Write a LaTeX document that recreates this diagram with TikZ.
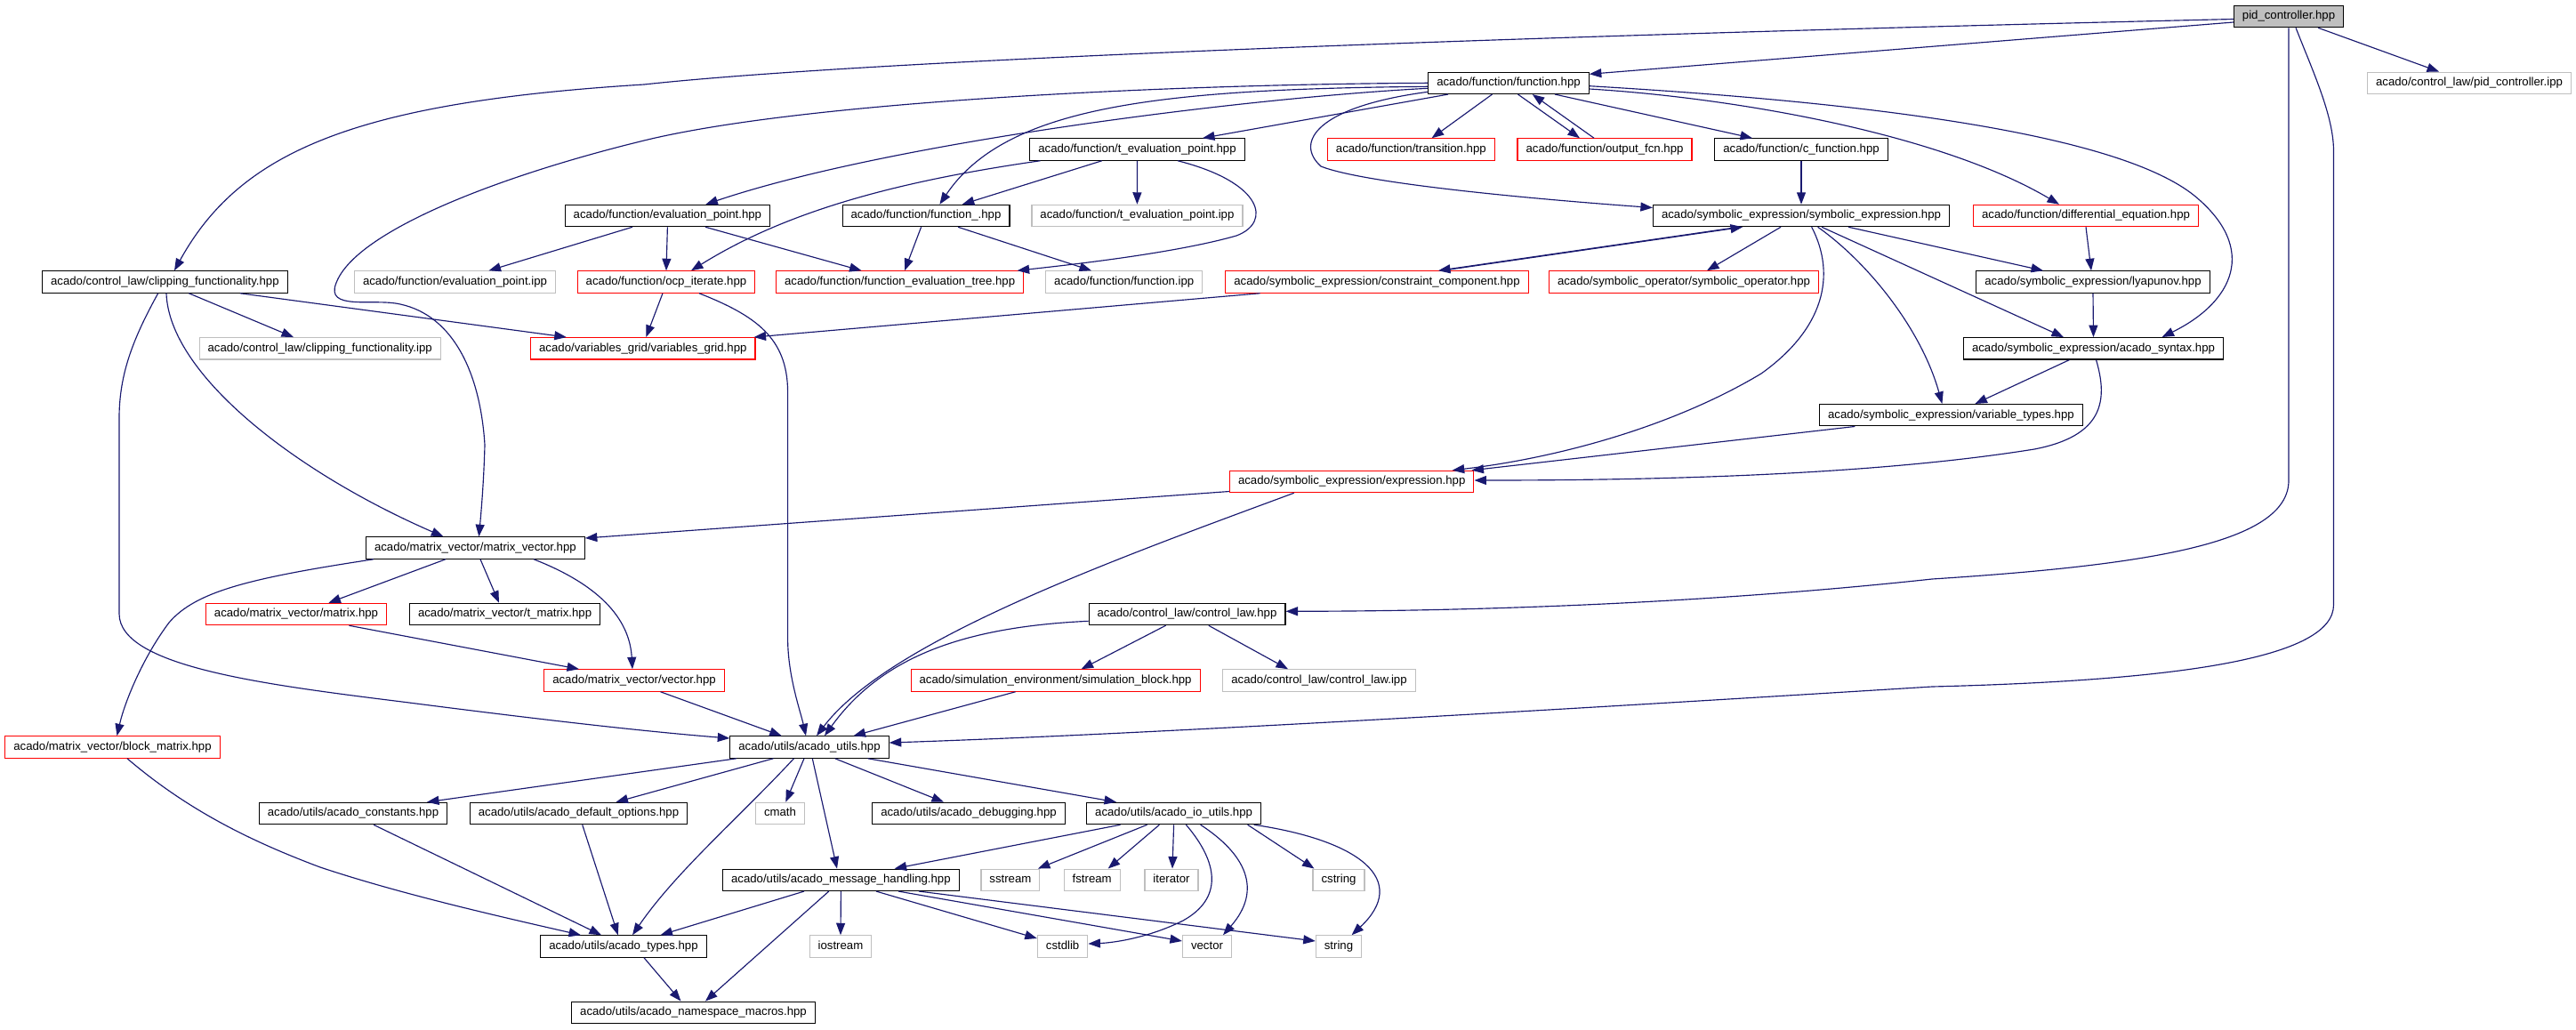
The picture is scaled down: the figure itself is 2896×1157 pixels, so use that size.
\documentclass[tikz,border=0pt]{standalone}
\usepackage{fontspec}
\setmainfont{Liberation Sans}
\usetikzlibrary{arrows.meta}
\definecolor{edgeblue}{HTML}{191970}
\definecolor{nodegrey}{HTML}{BFBFBF}
\newcommand\nodefont{\fontsize{13.2}{15}\selectfont}
\tikzset{
  nb/.style={draw=black, fill=white, line width=1.2pt, inner xsep=9.5pt, inner ysep=0pt,
    minimum height=24.3pt, text height=9.6pt, text depth=2.8pt, font=\nodefont},
  nr/.style={nb, draw=red},
  ng/.style={nb, draw=nodegrey},
  e/.style={draw=edgeblue, line width=1.15pt, -{Triangle[length=13.5pt,width=10pt]}},
}
\begin{document}
\begin{tikzpicture}[x=1pt,y=-1pt]
\useasboundingbox (0,0) rectangle (2896,1157);
\fill[white] (0,0) rectangle (2896,1157);

\node[nb, fill=nodegrey] (pid) at (2573,18.5) {pid\_controller.hpp};
\node[ng] (pidipp) at (2776,93.3) {acado/control\_law/pid\_controller.ipp};
\node[nb] (func) at (1696,93.3) {acado/function/function.hpp};
\node[nb] (teval) at (1278.5,168) {acado/function/t\_evaluation\_point.hpp};
\node[nr] (trans) at (1586.3,168) {acado/function/transition.hpp};
\node[nr] (outfcn) at (1804,168) {acado/function/output\_fcn.hpp};
\node[nb] (cfunc) at (2025,168) {acado/function/c\_function.hpp};
\node[nb] (evalp) at (750.4,242.5) {acado/function/evaluation\_point.hpp};
\node[nb] (funcu) at (1041,242.5) {acado/function/function\_.hpp};
\node[ng] (tevalipp) at (1278.4,242.5) {acado/function/t\_evaluation\_point.ipp};
\node[nb] (symexpr) at (2025,242.5) {acado/symbolic\_expression/symbolic\_expression.hpp};
\node[nr] (diffeq) at (2345,242.5) {acado/function/differential\_equation.hpp};
\node[nb] (clip) at (185.4,317) {acado/control\_law/clipping\_functionality.hpp};
\node[ng] (evalipp) at (511.5,317) {acado/function/evaluation\_point.ipp};
\node[nr] (ocp) at (749,317) {acado/function/ocp\_iterate.hpp};
\node[nr] (fet) at (1011.6,317) {acado/function/function\_evaluation\_tree.hpp};
\node[ng] (funcipp) at (1263.7,317) {acado/function/function.ipp};
\node[nr] (constr) at (1548,317) {acado/symbolic\_expression/constraint\_component.hpp};
\node[nr] (symop) at (1893,317) {acado/symbolic\_operator/symbolic\_operator.hpp};
\node[nb] (lyap) at (2353,317) {acado/symbolic\_expression/lyapunov.hpp};
\node[ng] (clipipp) at (359.7,391.8) {acado/control\_law/clipping\_functionality.ipp};
\node[nr] (vgrid) at (722.8,391.8) {acado/variables\_grid/variables\_grid.hpp};
\node[nb] (syntax) at (2353.5,391.8) {acado/symbolic\_expression/acado\_syntax.hpp};
\node[nb] (vartypes) at (2193.4,466.7) {acado/symbolic\_expression/variable\_types.hpp};
\node[nr] (expr) at (1519.7,541.5) {acado/symbolic\_expression/expression.hpp};
\node[nb] (mv) at (534.4,616) {acado/matrix\_vector/matrix\_vector.hpp};
\node[nr] (matrix) at (333,690.5) {acado/matrix\_vector/matrix.hpp};
\node[nb] (tmatrix) at (567.6,690.5) {acado/matrix\_vector/t\_matrix.hpp};
\node[nb] (claw) at (1334.5,690.5) {acado/control\_law/control\_law.hpp};
\node[nr] (vec) at (713,765) {acado/matrix\_vector/vector.hpp};
\node[nr] (simblk) at (1186.6,765) {acado/simulation\_environment/simulation\_block.hpp};
\node[ng] (clawipp) at (1483,765) {acado/control\_law/control\_law.ipp};
\node[nr] (bmat) at (126.5,840) {acado/matrix\_vector/block\_matrix.hpp};
\node[nb] (utils) at (910,840) {acado/utils/acado\_utils.hpp};
\node[nb] (const) at (397,914.5) {acado/utils/acado\_constants.hpp};
\node[nb] (defopt) at (650.5,914.5) {acado/utils/acado\_default\_options.hpp};
\node[ng] (cmath) at (877,914.5) {cmath};
\node[nb] (debug) at (1089,914.5) {acado/utils/acado\_debugging.hpp};
\node[nb] (io) at (1319.6,914.5) {acado/utils/acado\_io\_utils.hpp};
\node[nb] (msg) at (945.4,989.3) {acado/utils/acado\_message\_handling.hpp};
\node[ng] (sstream) at (1135.9,989.3) {sstream};
\node[ng] (fstream) at (1227.7,989.3) {fstream};
\node[ng] (iterator) at (1317,989.3) {iterator};
\node[ng] (cstring) at (1505,989.3) {cstring};
\node[nb] (types) at (701,1064) {acado/utils/acado\_types.hpp};
\node[ng] (iostream) at (945,1064) {iostream};
\node[ng] (cstdlib) at (1194.6,1064) {cstdlib};
\node[ng] (stdvector) at (1357,1064) {vector};
\node[ng] (string) at (1505,1064) {string};
\node[nb] (ns) at (779.5,1138.3) {acado/utils/acado\_namespace\_macros.hpp};

% pid_controller.hpp
\draw[e] ([yshift=-6.5pt]pid.west) -- ([yshift=10pt]func.east);
\draw[e] ([xshift=33pt]pid.south) -- ([xshift=-34pt]pidipp.north);
\draw[e] ([yshift=-3pt]pid.west) .. controls (1800,38) and (1000,65) .. (724,95) .. controls (400,115) and (270,170) .. ([xshift=10.6pt]clip.north);
\draw[e] (pid.south) -- (2573,540) .. controls (2573,610) and (2420,635) .. (2172,651) .. controls (1950,675) and (1700,687) .. ([yshift=3.2pt]claw.east);
\draw[e] ([xshift=8pt]pid.south) .. controls (2600,80) and (2623.5,130) .. (2623.5,170) -- (2623.5,680) .. controls (2623.5,740) and (2450,765) .. (2172,772) .. controls (1800,795) and (1300,825) .. ([yshift=5pt]utils.east);

% function.hpp
\draw[e] (func.west) .. controls (1300,95) and (900,115) .. (724,158) .. controls (560,198) and (400,260) .. (378,318) .. controls (365,350) and (420,335) .. (450,342) .. controls (510,355) and (540,420) .. (545,500) .. controls (544,540) and (541,575) .. ([xshift=4pt]mv.north);
\draw[e] ([yshift=-6pt]func.west) .. controls (1400,110) and (1000,160) .. ([xshift=43pt]evalp.north);
\draw[e] ([yshift=-4pt]func.west) .. controls (1300,100) and (1130,120) .. ([xshift=15.4pt]funcu.north);
\draw[e] ([xshift=-68pt]func.south) -- ([xshift=73.5pt]teval.north);
\draw[e] ([xshift=-18.5pt]func.south) -- ([xshift=23.3pt]trans.north);
\draw[e] ([xshift=10.5pt]func.south) -- ([xshift=-28pt]outfcn.north);
\draw[e] ([xshift=-12pt]outfcn.north) -- ([xshift=26.7pt]func.south);
\draw[e] ([xshift=52pt]func.south) -- ([xshift=-55pt]cfunc.north);
\draw[e] ([yshift=-10pt]func.west) .. controls (1480,120) and (1455,160) .. (1485,187) .. controls (1530,205) and (1700,222) .. ([yshift=9pt]symexpr.west);
\draw[e] ([yshift=-6.7pt]func.east) .. controls (1950,110) and (2180,150) .. ([xshift=-30pt]diffeq.north);
\draw[e] ([yshift=-3.4pt]func.east) .. controls (2100,115) and (2380,150) .. (2467,220) .. controls (2540,280) and (2510,340) .. ([xshift=77pt]syntax.north);

% t_evaluation_point.hpp
\draw[e] ([xshift=-39.7pt]teval.south) -- ([xshift=40.8pt]funcu.north);
\draw[e] (teval.south) -- (tevalipp.north);
\draw[e] ([xshift=-109pt]teval.south) .. controls (1000,205) and (880,240) .. ([xshift=28pt]ocp.north);
\draw[e] ([xshift=45.5pt]teval.south) .. controls (1420,205) and (1430,250) .. (1390,265) .. controls (1320,285) and (1200,298) .. ([xshift=132pt]fet.north);

% evaluation_point.hpp, function_.hpp, c_function.hpp
\draw[e] ([xshift=-39.4pt]evalp.south) -- ([xshift=38pt]evalipp.north);
\draw[e] (evalp.south) -- (ocp.north);
\draw[e] ([xshift=42.6pt]evalp.south) -- ([xshift=-43pt]fet.north);
\draw[e] ([xshift=-5.4pt]funcu.south) -- ([xshift=5.4pt]fet.north);
\draw[e] ([xshift=36pt]funcu.south) -- ([xshift=-36.7pt]funcipp.north);
\draw[e] (cfunc.south) -- (symexpr.north);

% symbolic_expression.hpp
\draw[e] ([xshift=73pt]constr.north) -- ([xshift=-66pt]symexpr.south);
\draw[e] ([xshift=-70pt]symexpr.south) -- ([xshift=69pt]constr.north);
\draw[e] ([xshift=-23pt]symexpr.south) -- ([xshift=26pt]symop.north);
\draw[e] ([xshift=53pt]symexpr.south) -- ([xshift=-56pt]lyap.north);
\draw[e] ([xshift=23pt]symexpr.south) -- ([xshift=-33.5pt]syntax.north);
\draw[e] ([xshift=18.6pt]symexpr.south) .. controls (2100,295) and (2160,370) .. ([xshift=-10pt]vartypes.north);
\draw[e] ([xshift=11.7pt]symexpr.south) .. controls (2065,310) and (2050,370) .. (1980,420) .. controls (1880,480) and (1750,515) .. ([xshift=113pt]expr.north);

% differential_equation, lyapunov, acado_syntax, variable_types
\draw[e] (diffeq.south) -- ([xshift=-2pt]lyap.north);
\draw[e] (lyap.south) -- (syntax.north);
\draw[e] ([xshift=-27pt]syntax.south) -- ([xshift=27pt]vartypes.north);
\draw[e] ([xshift=3pt]syntax.south) .. controls (2370,450) and (2365,490) .. (2287,505) .. controls (2100,535) and (1850,540) .. ([yshift=1.5pt]expr.east);
\draw[e] ([xshift=-108pt]vartypes.south) -- ([xshift=-3pt]expr.north east);

% expression.hpp
\draw[e] ([yshift=-11pt]expr.west) -- ([yshift=11pt]mv.east);
\draw[e] ([xshift=-65pt]expr.south) .. controls (1250,630) and (1000,720) .. ([xshift=8pt]utils.north);

% ocp_iterate, constraint_component
\draw[e] ([xshift=-4pt]ocp.south) -- ([xshift=3.5pt]vgrid.north);
\draw[e] ([xshift=37pt]ocp.south) .. controls (850,355) and (885,380) .. (885.6,440) -- (885.6,718) .. controls (885.6,760) and (900,800) .. ([xshift=-4pt]utils.north);
\draw[e] ([xshift=-131.5pt]constr.south) -- ([xshift=-2pt]vgrid.north east);

% clipping_functionality.hpp
\draw[e] ([xshift=27pt]clip.south) -- ([xshift=-29.7pt]clipipp.north);
\draw[e] ([xshift=84.6pt]clip.south) -- ([xshift=-86pt]vgrid.north);
\draw[e] ([xshift=1.6pt]clip.south) .. controls (190,420) and (330,530) .. ([xshift=-36pt]mv.north);
\draw[e] ([xshift=-7.7pt]clip.south) .. controls (150,380) and (134,420) .. (134,470) -- (134,690) .. controls (134,750) and (300,770) .. (460,790) .. controls (600,808) and (720,822) .. ([yshift=10pt]utils.west);

% matrix_vector.hpp
\draw[e] ([xshift=-33.4pt]mv.south) -- ([xshift=36.4pt]matrix.north);
\draw[e] ([xshift=5.6pt]mv.south) -- ([xshift=-6.6pt]tmatrix.north);
\draw[e] ([xshift=65.6pt]mv.south) .. controls (680,660) and (708,700) .. ([xshift=-2pt]vec.north);
\draw[e] ([xshift=-114.4pt]mv.south) .. controls (280,650) and (220,665) .. (190,700) .. controls (160,740) and (140,790) .. ([xshift=5pt]bmat.north);
\draw[e] ([xshift=59.4pt]matrix.south) -- ([xshift=-62pt]vec.north);
\draw[e] ([xshift=29.5pt]vec.south) -- ([xshift=-31.3pt]utils.north);
\draw[e] ([xshift=16.5pt]bmat.south) .. controls (210,910) and (280,945) .. (360,975) .. controls (450,1005) and (560,1030) .. ([xshift=-48pt]types.north);

% control_law.hpp
\draw[e] ([yshift=-7.8pt]claw.west) .. controls (1080,705) and (990,740) .. ([xshift=17pt]utils.north);
\draw[e] ([xshift=-24pt]claw.south) -- ([xshift=29pt]simblk.north);
\draw[e] ([xshift=24.3pt]claw.south) -- ([xshift=-35pt]clawipp.north);
\draw[e] ([xshift=-45pt]simblk.south) -- ([xshift=49.5pt]utils.north);

% acado_utils.hpp
\draw[e] ([xshift=-82pt]utils.south) -- ([xshift=83pt]const.north);
\draw[e] ([xshift=-40.6pt]utils.south) -- ([xshift=42pt]defopt.north);
\draw[e] ([xshift=-17.5pt]utils.south) .. controls (830,920) and (760,980) .. ([xshift=10pt]types.north);
\draw[e] ([xshift=-6pt]utils.south) -- ([xshift=6.3pt]cmath.north);
\draw[e] ([xshift=3.3pt]utils.south) -- ([xshift=-4.4pt]msg.north);
\draw[e] ([xshift=28.7pt]utils.south) -- ([xshift=-28pt]debug.north);
\draw[e] ([xshift=65.6pt]utils.south) -- ([xshift=-64.6pt]io.north);
\draw[e] ([xshift=4.2pt]defopt.south) -- ([xshift=-6.2pt]types.north);
\draw[e] ([xshift=23pt]const.south) -- ([xshift=-25pt]types.north);

% acado_io_utils.hpp
\draw[e] ([xshift=-60pt]io.south) -- ([xshift=60.2pt]msg.north);
\draw[e] ([xshift=-30pt]io.south) -- ([xshift=31pt]sstream.north);
\draw[e] ([xshift=-16.2pt]io.south) -- ([xshift=18pt]fstream.north);
\draw[e] (io.south) -- ([xshift=1pt]iterator.north);
\draw[e] ([xshift=13.8pt]io.south) .. controls (1370,970) and (1375,1010) .. (1330,1035) .. controls (1290,1055) and (1250,1060) .. ([yshift=3pt]cstdlib.east);
\draw[e] ([xshift=30pt]io.south) .. controls (1400,960) and (1420,1000) .. ([xshift=18pt]stdvector.north);
\draw[e] ([xshift=83pt]io.south) -- ([xshift=2pt]cstring.north west);
\draw[e] ([xshift=90pt]io.south) .. controls (1530,945) and (1585,990) .. ([xshift=14.6pt]string.north);

% acado_message_handling.hpp
\draw[e] ([xshift=-41.4pt]msg.south) -- ([xshift=41.5pt]types.north);
\draw[e] ([xshift=-13.6pt]msg.south) -- ([xshift=13.5pt]ns.north);
\draw[e] (msg.south) -- (iostream.north);
\draw[e] ([xshift=39.6pt]msg.south) -- ([yshift=9pt]cstdlib.west);
\draw[e] ([xshift=64.6pt]msg.south) -- ([yshift=6pt]stdvector.west);
\draw[e] ([xshift=87.6pt]msg.south) -- ([yshift=6pt]string.west);
\draw[e] ([xshift=23pt]types.south) -- ([xshift=-14pt]ns.north);
\end{tikzpicture}
\end{document}
